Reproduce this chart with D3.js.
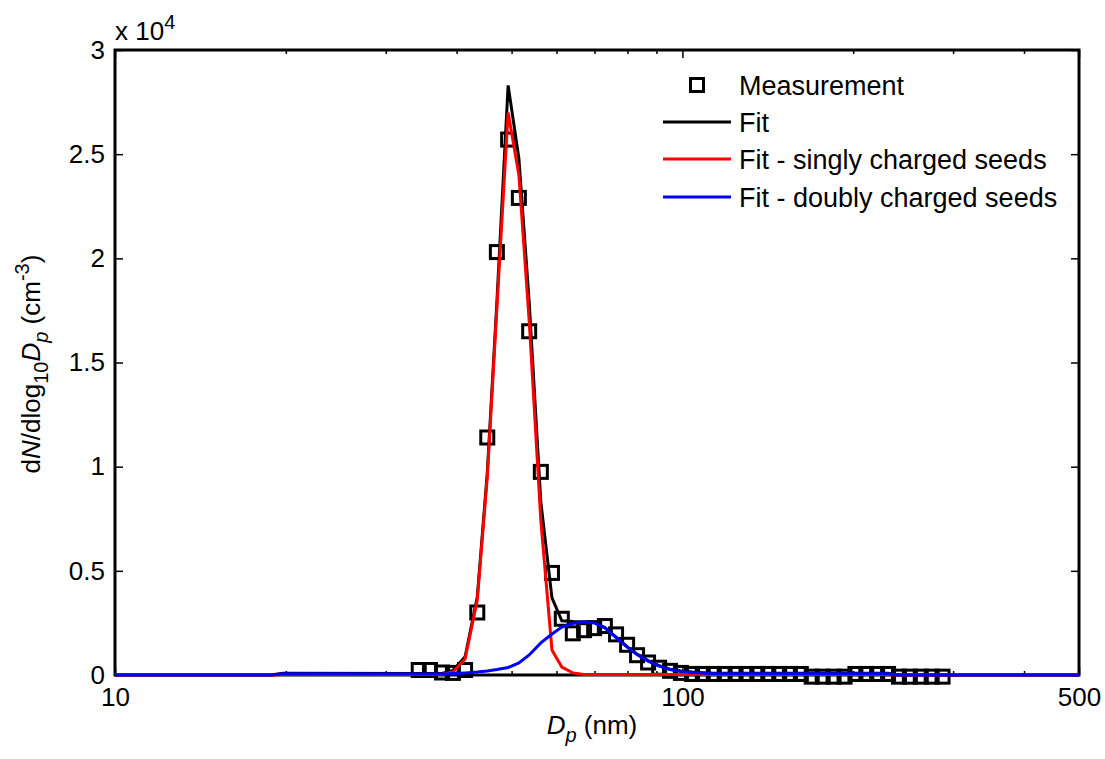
<!DOCTYPE html>
<html>
<head>
<meta charset="utf-8">
<script src="https://cdn.jsdelivr.net/npm/d3@7"></script>
<style>
  html, body { margin: 0; padding: 0; background: #fff; }
  svg { display: block; font-family: "Liberation Sans", Arial, Helvetica, sans-serif; }
</style>
</head>
<body>
<svg id="chart" width="1105" height="759"></svg>
<script>
// Particle diameters of the measured size channels (nm)
const measDp = [34.3, 35.9, 37.7, 39.4, 41.4, 43.5, 45.3, 47.1, 49.3, 51.5,
  53.7, 56.3, 58.9, 61.3, 64.1, 67.1, 69.9, 73.0, 76.4, 79.9,
  83.2, 87.0, 91.0, 95.1, 99.4, 104.0, 108.6, 113.6, 118.7, 124.1,
  129.7, 135.5, 141.7, 148.1, 154.7, 161.7, 169.0, 176.7, 184.7, 193.1,
  201.8, 210.9, 220.4, 230.4, 240.8, 251.7, 263.1, 275.0, 287.4];

// Measured dN/dlog10Dp (cm^-3)
const measN = [240, 240, 120, 100, 240, 3000, 11400, 20300, 25700, 22900,
  16500, 9750, 4900, 2700, 2000, 2150, 2250, 2350, 1950, 1450,
  950, 600, 350, 200, 100, 50, 50, 50, 50, 50,
  50, 50, 50, 50, 50, 50, -80, -80, -80, -80,
  50, 50, 50, 50, -80, -80, -80, -80, -80];

// Diameters at which the fitted distributions are evaluated (nm)
const fitDp = [10, 18.8, 19.8].concat(measDp, [500]);

// Total fit
const fitTotal = [0, 0, 80,
  70, 70, 70, 220, 870, 3740, 9700, 17900, 28300, 24800,
  17900, 8300, 3700, 2600, 2570, 2560, 2520, 2280, 1820, 1360,
  1000, 690, 450, 280, 190, 140, 110, 80, 80, 80,
  80, 80, 80, 80, 80, 80, 80, 80, 80, 80,
  80, 80, 80, 80, 0, 0, 0, 0, 0,
  0];

// Fit contribution of singly charged seeds
const fitSingle = [0, 0, 20,
  20, 20, 20, 140, 770, 3600, 9500, 17600, 27000, 24000,
  17000, 7400, 1200, 380, 100, 20, 20, 20, 20, 20,
  20, 20, 20, 20, 20, 20, 20, 20, 20, 20,
  20, 20, 20, 20, 20, 20, 20, 20, 20, 20,
  20, 20, 20, 20, 0, 0, 0, 0, 0,
  0];

// Fit contribution of doubly charged seeds
const fitDouble = [0, 0, 60,
  50, 50, 50, 70, 100, 140, 190, 260, 360, 580,
  960, 1540, 1970, 2300, 2470, 2540, 2500, 2260, 1800, 1340,
  980, 670, 430, 260, 170, 120, 90, 60, 60, 60,
  60, 60, 60, 60, 60, 60, 60, 60, 60, 60,
  60, 60, 60, 60, 0, 0, 0, 0, 0,
  0];

const xMajor = [10, 100, 500];
const xMinor = [20, 30, 40, 50, 60, 70, 80, 90, 200, 300, 400];
const yTicks = [0, 5000, 10000, 15000, 20000, 25000, 30000];

const legendItems = [
  { label: "Measurement", type: "marker", color: "#000" },
  { label: "Fit", type: "line", color: "#000" },
  { label: "Fit - singly charged seeds", type: "line", color: "#ff0000" },
  { label: "Fit - doubly charged seeds", type: "line", color: "#0000ff" }
];

const svg = d3.select("#chart");
const L = 115, R = 1079, T = 50, B = 675;

const x = d3.scaleLog().domain([10, 500]).range([L, R]);
const y = d3.scaleLinear().domain([0, 30000]).range([B, T]);

// Axes (ticks point inward on all four sides)
const axisStyle = g => {
  g.select(".domain").remove();
  g.selectAll(".tick line").attr("stroke", "#000").attr("stroke-width", 1.5);
  g.selectAll(".tick text").attr("fill", "#000").attr("font-size", 26)
    .attr("font-family", "'Liberation Sans', Arial, sans-serif");
};

svg.append("g").attr("transform", `translate(0,${B})`)
  .call(d3.axisBottom(x).tickValues(xMajor).tickFormat(d3.format("d"))
    .tickSizeInner(-8).tickSizeOuter(0).tickPadding(13))
  .call(axisStyle);
svg.append("g").attr("transform", `translate(0,${B})`)
  .call(d3.axisBottom(x).tickValues(xMinor).tickFormat("")
    .tickSizeInner(-4).tickSizeOuter(0))
  .call(axisStyle);
svg.append("g").attr("transform", `translate(0,${T})`)
  .call(d3.axisTop(x).tickValues(xMajor).tickFormat("")
    .tickSizeInner(-8).tickSizeOuter(0))
  .call(axisStyle);
svg.append("g").attr("transform", `translate(0,${T})`)
  .call(d3.axisTop(x).tickValues(xMinor).tickFormat("")
    .tickSizeInner(-4).tickSizeOuter(0))
  .call(axisStyle);
svg.append("g").attr("transform", `translate(${L},0)`)
  .call(d3.axisLeft(y).tickValues(yTicks).tickFormat(d => d / 1e4)
    .tickSizeInner(-8).tickSizeOuter(0).tickPadding(10))
  .call(axisStyle);
svg.append("g").attr("transform", `translate(${R},0)`)
  .call(d3.axisRight(y).tickValues(yTicks).tickFormat("")
    .tickSizeInner(-8).tickSizeOuter(0))
  .call(axisStyle);

// Frame
svg.append("rect")
  .attr("x", L).attr("y", T).attr("width", R - L).attr("height", B - T)
  .attr("fill", "none").attr("stroke", "#000").attr("stroke-width", 3);

// Exponent label of the y axis
const expo = svg.append("text").attr("x", 115).attr("y", 40)
  .attr("font-size", 26).attr("fill", "#000");
expo.append("tspan").text("x 10");
expo.append("tspan").attr("font-size", 20).attr("dy", -11).text("4");

// Measurement markers
const MS = 13;
svg.append("g").selectAll("rect")
  .data(measDp.map((d, i) => [d, measN[i]]))
  .join("rect")
  .attr("x", d => x(d[0]) - MS / 2)
  .attr("y", d => y(d[1]) - MS / 2)
  .attr("width", MS).attr("height", MS)
  .attr("fill", "none").attr("stroke", "#000").attr("stroke-width", 3);

// Fitted curves
const line = d3.line().x(d => x(d[0])).y(d => y(d[1]));
[[fitTotal, "#000"], [fitSingle, "#ff0000"], [fitDouble, "#0000ff"]].forEach(([vals, col]) => {
  svg.append("path")
    .datum(fitDp.map((d, i) => [d, vals[i]]))
    .attr("d", line)
    .attr("fill", "none").attr("stroke", col).attr("stroke-width", 3);
});

// Legend
const lg = svg.append("g");
const rowY = [85, 122, 159, 197];
legendItems.forEach((it, i) => {
  const cy = rowY[i];
  if (it.type === "marker") {
    lg.append("rect").attr("x", 697 - MS / 2).attr("y", cy - MS / 2)
      .attr("width", MS).attr("height", MS)
      .attr("fill", "none").attr("stroke", it.color).attr("stroke-width", 3);
  } else {
    lg.append("line").attr("x1", 663).attr("x2", 731).attr("y1", cy).attr("y2", cy)
      .attr("stroke", it.color).attr("stroke-width", 3);
  }
  lg.append("text").attr("x", 739).attr("y", cy + 10)
    .attr("font-size", 27).attr("fill", "#000").text(it.label);
});

// X axis title
const xt = svg.append("text").attr("x", 592).attr("y", 734)
  .attr("text-anchor", "middle").attr("font-size", 26).attr("fill", "#000");
xt.append("tspan").attr("font-style", "italic").text("D");
xt.append("tspan").attr("font-style", "italic").attr("font-size", 20).attr("dy", 8).text("p");
xt.append("tspan").attr("dy", -8).text(" (nm)");

// Y axis title
const yt = svg.append("text").attr("transform", "translate(40,364) rotate(-90)")
  .attr("text-anchor", "middle").attr("font-size", 26).attr("fill", "#000");
yt.append("tspan").text("d");
yt.append("tspan").attr("font-style", "italic").text("N");
yt.append("tspan").text("/dlog");
yt.append("tspan").attr("font-size", 20).attr("dy", 8).text("10");
yt.append("tspan").attr("font-style", "italic").attr("dy", -8).text("D");
yt.append("tspan").attr("font-style", "italic").attr("font-size", 20).attr("dy", 8).text("p");
yt.append("tspan").attr("dy", -8).text(" (cm");
yt.append("tspan").attr("font-size", 20).attr("dy", -11).text("-3");
yt.append("tspan").attr("dy", 11).text(")");
</script>
</body>
</html>
